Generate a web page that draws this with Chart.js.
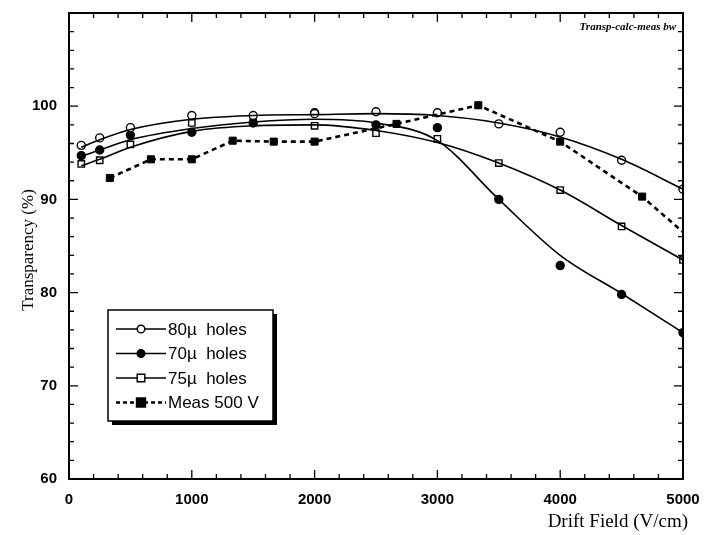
<!DOCTYPE html>
<html>
<head>
<meta charset="utf-8">
<script src="https://cdn.jsdelivr.net/npm/chart.js@4.4.1/dist/chart.umd.min.js"></script>
<style>
  html, body { margin: 0; padding: 0; background: #fff; }
  #wrap { width: 716px; height: 535px; }
</style>
</head>
<body>
<div id="wrap"><canvas id="chart"></canvas></div>
<script>
// Drift field positions (V/cm) of the calculated points
const fieldX = [100, 250, 500, 1000, 1500, 2000, 2500, 3000, 3500, 4000, 4500, 5000];

// calculated transparency (%), markers and the smooth curve drawn through them
const holes80 = [95.8, 96.6, 97.7, 99.0, 99.0, 99.2, 99.4, 99.3, 98.1, 97.2, 94.2, 91.1];
const holes80Fit = [95.6, 96.4, 97.5, 98.6, 99.0, 99.1, 99.2, 99.0, 98.2, 96.7, 94.3, 91.1];
const holes70 = [94.7, 95.3, 96.9, 97.2, 98.2, 99.3, 98.0, 97.7, 90.0, 82.9, 79.8, 75.7];
const holes70Fit = [94.6, 95.3, 96.4, 97.6, 98.3, 98.6, 98.2, 96.3, 90.0, 84.0, 79.9, 75.7];
const holes75 = [93.8, 94.2, 95.9, 98.2, 98.3, 97.9, 97.1, 96.5, 93.9, 91.0, 87.1, 83.5];
const holes75Fit = [93.6, 94.3, 95.6, 97.3, 97.9, 98.0, 97.4, 96.1, 93.9, 91.0, 87.2, 83.5];

// measurement at 500 V
const measX = [333, 667, 1000, 1333, 1667, 2000, 2667, 3333, 4000, 4667, 5000];
const meas500 = [92.3, 94.3, 94.3, 96.3, 96.2, 96.2, 98.1, 100.1, 96.2, 90.3, 86.5];

const xTicks = [0, 1000, 2000, 3000, 4000, 5000];
const yTicks = [60, 70, 80, 90, 100];

const pts = (xs, ys) => xs.map((x, i) => ({ x: x, y: ys[i] }));

const curve = (label, ys) => ({
  label: label,
  data: pts(fieldX, ys),
  showLine: true,
  borderColor: '#000',
  borderWidth: 1.6,
  pointRadius: 0,
  cubicInterpolationMode: 'monotone',
  fill: false
});

const markers = (label, ys, style, fillColor, r) => ({
  label: label,
  data: pts(fieldX, ys),
  showLine: false,
  pointStyle: style,
  pointRadius: r,
  pointBackgroundColor: fillColor,
  pointBorderColor: '#000',
  pointBorderWidth: 1.4
});

const datasets = [
  curve('80fit', holes80Fit),
  curve('70fit', holes70Fit),
  curve('75fit', holes75Fit),
  {
    label: 'Meas 500 V',
    data: pts(measX, meas500),
    showLine: true,
    borderColor: '#000',
    borderWidth: 2.6,
    borderDash: [5, 4],
    tension: 0,
    pointStyle: 'rect',
    pointRadius: ctx => (ctx.dataIndex === measX.length - 1 ? 0 : 5),
    pointBackgroundColor: '#000',
    pointBorderColor: '#000',
    pointBorderWidth: 1
  },
  markers('80µ  holes', holes80, 'circle', '#fff', 4),
  markers('70µ  holes', holes70, 'circle', '#000', 4),
  markers('75µ  holes', holes75, 'rect', '#fff', 4.5)
];

// legend entries: [text, marker style, filled, dashed]
const legendItems = [
  ['80µ  holes', 'circle', false, false],
  ['70µ  holes', 'circle', true, false],
  ['75µ  holes', 'rect', false, false],
  ['Meas 500 V', 'rect', true, true]
];

function drawMarker(ctx, style, filled, x, y, r) {
  ctx.beginPath();
  if (style === 'circle') ctx.arc(x, y, r, 0, Math.PI * 2);
  else ctx.rect(x - r, y - r, r * 2, r * 2);
  ctx.fillStyle = filled ? '#000' : '#fff';
  ctx.fill();
  ctx.lineWidth = 1.4;
  ctx.strokeStyle = '#000';
  ctx.stroke();
}

// frame, inward tick marks, legend box, axis titles and the file tag
const framePlugin = {
  id: 'frame',
  afterDatasetsDraw(chart) {
    const { ctx, chartArea: a, scales: { x, y } } = chart;
    ctx.save();
    ctx.strokeStyle = '#000';
    ctx.lineWidth = 1.3;
    ctx.beginPath();
    for (let v = 0; v <= 5000; v += 200) {
      const px = x.getPixelForValue(v);
      const len = v % 1000 === 0 ? 9 : 5;
      ctx.moveTo(px, a.bottom); ctx.lineTo(px, a.bottom - len);
      ctx.moveTo(px, a.top); ctx.lineTo(px, a.top + len);
    }
    for (let v = 60; v <= 110; v += 2) {
      const py = y.getPixelForValue(v);
      const len = v % 10 === 0 ? 9 : 5;
      ctx.moveTo(a.left, py); ctx.lineTo(a.left + len, py);
      ctx.moveTo(a.right, py); ctx.lineTo(a.right - len, py);
    }
    ctx.stroke();
    ctx.lineWidth = 2;
    ctx.strokeRect(a.left, a.top, a.right - a.left, a.bottom - a.top);

    // legend with drop shadow
    const bx = 108, by = 310, bw = 165, bh = 111;
    ctx.fillStyle = '#000';
    ctx.fillRect(bx + 4, by + 4, bw, bh);
    ctx.fillStyle = '#fff';
    ctx.fillRect(bx, by, bw, bh);
    ctx.lineWidth = 1.5;
    ctx.strokeRect(bx, by, bw, bh);
    legendItems.forEach((it, i) => {
      const ly = 329 + i * 24.5;
      ctx.beginPath();
      ctx.lineWidth = it[3] ? 2.6 : 1.6;
      ctx.setLineDash(it[3] ? [4, 3] : []);
      ctx.moveTo(116, ly); ctx.lineTo(166, ly);
      ctx.stroke();
      ctx.setLineDash([]);
      drawMarker(ctx, it[1], it[2], 141, ly, it[1] === 'rect' && it[2] ? 4.5 : 3.8);
      ctx.fillStyle = '#000';
      ctx.font = '17px "Liberation Sans", Arial, sans-serif';
      ctx.textBaseline = 'middle';
      ctx.textAlign = 'left';
      ctx.fillText(it[0], 168, ly + 1);
    });

    ctx.fillStyle = '#000';
    ctx.font = '19px "Liberation Serif", "Times New Roman", serif';
    ctx.textAlign = 'right';
    ctx.textBaseline = 'middle';
    ctx.fillText('Drift Field (V/cm)', 688, 522);

    ctx.save();
    ctx.translate(29, 250);
    ctx.rotate(-Math.PI / 2);
    ctx.textAlign = 'center';
    ctx.font = '17px "Liberation Serif", "Times New Roman", serif';
    ctx.fillText('Transparency (%)', 0, 0);
    ctx.restore();

    ctx.textAlign = 'right';
    ctx.font = 'italic bold 11px "Liberation Serif", serif';
    ctx.fillText('Transp-calc-meas bw', 676, 27);
    ctx.restore();
  }
};

new Chart(document.getElementById('chart'), {
  type: 'scatter',
  data: { datasets: datasets },
  plugins: [framePlugin],
  options: {
    responsive: true,
    maintainAspectRatio: false,
    animation: false,
    layout: { padding: { top: 9, right: 33, left: 0, bottom: 0 } },
    plugins: { legend: { display: false }, tooltip: { enabled: false } },
    scales: {
      x: {
        type: 'linear',
        min: 0,
        max: 5000,
        afterBuildTicks: s => { s.ticks = xTicks.map(v => ({ value: v })); },
        afterFit: s => { s.height = 56; },
        grid: { display: false },
        border: { display: false },
        ticks: {
          color: '#000',
          padding: 4,
          maxRotation: 0,
          callback: v => String(v),
          font: { family: '"Liberation Sans", Arial, sans-serif', size: 15, weight: 'bold' }
        },
        title: { display: false }
      },
      y: {
        type: 'linear',
        min: 60,
        max: 110,
        afterBuildTicks: s => { s.ticks = yTicks.map(v => ({ value: v })); },
        afterFit: s => { s.width = 69; },
        grid: { display: false },
        border: { display: false },
        ticks: {
          color: '#000',
          padding: 4,
          callback: v => String(v),
          font: { family: '"Liberation Sans", Arial, sans-serif', size: 15, weight: 'bold' }
        },
        title: { display: false }
      }
    }
  }
});
</script>
</body>
</html>
